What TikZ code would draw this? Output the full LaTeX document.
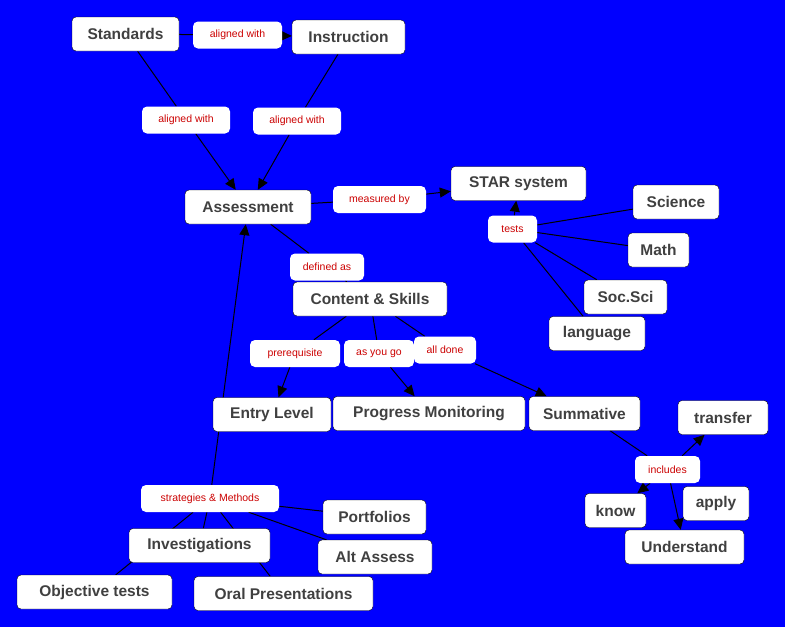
\documentclass[tikz,border=0pt]{standalone}
\usepackage{fontspec}
\setmainfont{Liberation Sans}
\usetikzlibrary{arrows.meta}
\definecolor{cblau}{HTML}{0000FF}
\definecolor{cgrau}{HTML}{404040}
\definecolor{crot}{HTML}{CC0000}
\pgfdeclarelayer{bg}
\pgfdeclarelayer{lines}
\pgfsetlayers{bg,lines,main}

\begin{document}
\begin{tikzpicture}[x=1pt,y=-1pt,>={Triangle[black,length=11pt,width=10pt]},
        every edge/.style={draw=black,line width=1pt},
        concept/.style={draw=black, rectangle, rounded corners=4pt, fill=white, text=cgrau,
            font=\bfseries\fontsize{15.5}{18}\selectfont, minimum height=34pt, minimum width=#1, inner sep=1pt},
        link/.style={rectangle, rounded corners=5pt, fill=white, text=crot,
            font=\fontsize{10.5}{12}\selectfont, minimum height=27pt, minimum width=#1, inner sep=1pt}]
        \useasboundingbox (0,0) rectangle (785,627);
        \begin{pgfonlayer}{bg}
            \fill[cblau] (0,0) rectangle (785,627);
        \end{pgfonlayer}

        % top
        \node[concept=107] (Std) at (125.5, 34) {Standards};
        \node[concept=113] (Ins) at (348.5, 37) {Instruction};
        \node[link=89] (AW1) at (237.5, 35) {aligned with};
        \node[link=88] (AW2) at (186, 120) {aligned with};
        \node[link=88] (AW3) at (297, 121) {aligned with};
        \node[concept=126] (Ass) at (248, 207) {Assessment};

        % STAR
        \node[link=93] (MB) at (379.5, 199.5) {measured by};
        \node[concept=135] (STAR) at (518.5, 183.5) {STAR system};
        \node[link=49] (T) at (512.5, 229) {tests};
        \node[concept=86] (Sci) at (676, 202) {Science};
        \node[concept=61] (Math) at (658.5, 250) {Math};
        \node[concept=83] (Soc) at (625.5, 297) {Soc.Sci};
        \node[concept=96] (Lang) at (597, 333.5) {language};

        % content
        \node[link=74] (DA) at (327, 267) {defined as};
        \node[concept=154] (CS) at (370, 299) {Content \& Skills};
        \node[link=90] (Pre) at (295, 353.5) {prerequisite};
        \node[link=70] (AYG) at (379, 353.5) {as you go};
        \node[link=62] (AD) at (445, 350) {all done};
        \node[concept=118] (EL) at (272, 414.5) {Entry Level};
        \node[concept=192] (PM) at (429, 413.5) {Progress Monitoring};
        \node[concept=111] (Sum) at (584.5, 413.5) {Summative};

        % summative
        \node[link=65] (Inc) at (667.5, 469.5) {includes};
        \node[concept=90] (Tra) at (723, 417.5) {transfer};
        \node[concept=61] (Know) at (615.5, 510.5) {know};
        \node[concept=66] (App) at (716, 503.5) {apply};
        \node[concept=119] (Und) at (684.5, 547) {Understand};

        % methods
        \node[link=138] (SM) at (210, 498.5) {strategies \& Methods};
        \node[concept=103] (Port) at (374.5, 517) {Portfolios};
        \node[concept=114] (Alt) at (375, 557) {Alt Assess};
        \node[concept=141] (Inv) at (199.5, 545.5) {Investigations};
        \node[concept=155] (Obj) at (94.5, 592) {Objective tests};
        \node[concept=179] (Oral) at (283.5, 593.5) {Oral Presentations};

        \begin{pgfonlayer}{lines}
            \path (Std) edge (AW1);
            \path [->](AW1) edge (Ins);
            \path (Std) edge (AW2);
            \path [->](AW2) edge (Ass);
            \path (Ins) edge (AW3);
            \path [->](AW3) edge (Ass);

            \path (Ass) edge (MB);
            \path [->](MB) edge (STAR);
            \path [->](T) edge (STAR);
            \path (Sci) edge (T);
            \path (Math) edge (T);
            \path (Soc) edge (T);
            \path (Lang) edge (T);

            \path (Ass) edge (DA);
            \path (DA) edge (CS);
            \path (CS) edge (Pre);
            \path (CS) edge (AYG);
            \path (CS) edge (AD);
            \path [->](Pre) edge (EL);
            \path [->](AYG) edge (PM);
            \path [->](AD) edge (Sum);

            \path (Sum) edge (Inc);
            \path [->](Inc) edge (Tra);
            \path [->](Inc) edge (Know);
            \path [->](Inc) edge (Und);

            \path [->](SM) edge (Ass);
            \path (Port) edge (SM);
            \path (Alt) edge (SM);
            \path (Inv) edge (SM);
            \path (Obj) edge (SM);
            \path (Oral) edge (SM);
        \end{pgfonlayer}

    \end{tikzpicture}
\end{document}
